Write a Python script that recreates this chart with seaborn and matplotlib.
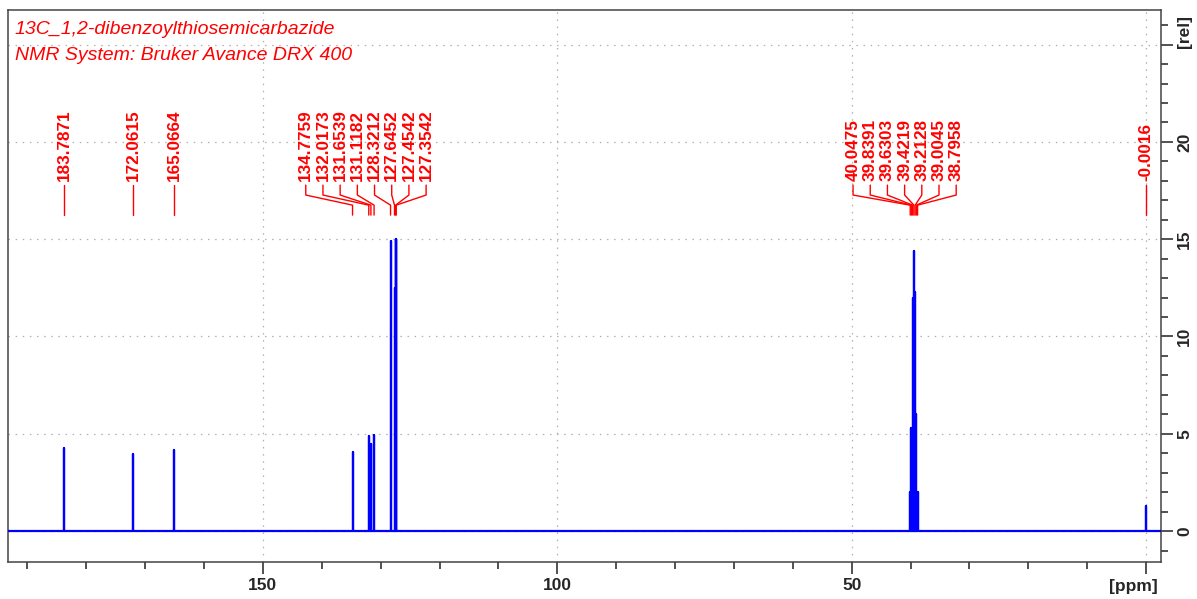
import numpy as np
import pandas as pd
import matplotlib
matplotlib.use("Agg")
import matplotlib.pyplot as plt
import matplotlib.transforms as mtransforms
from matplotlib.ticker import MultipleLocator
import seaborn as sns

## peak list (ppm) and peak heights (rel)
peak_ppm = [183.7871, 172.0615, 165.0664,
            134.7759, 132.0173, 131.6539, 131.1182, 128.3212, 127.6452, 127.4542, 127.3542,
            40.0475, 39.8391, 39.6303, 39.4219, 39.2128, 39.0045, 38.7958,
            -0.0016]
peak_height = [4.25, 3.95, 4.15,
               4.05, 4.9, 4.45, 4.95, 14.9, 12.5, 15.0, 15.0,
               2.0, 5.3, 12.0, 14.4, 12.3, 6.0, 2.0,
               1.3]
# which peaks share one label fan
label_groups = [[0], [1], [2], [3, 4, 5, 6, 7, 8, 9, 10], [11, 12, 13, 14, 15, 16, 17], [18]]

title_lines = ["13C_1,2-dibenzoylthiosemicarbazide", "NMR System: Bruker Avance DRX 400"]
x_ticks = [150, 100, 50, 0]
x_ticklabels = ["150", "100", "50", ""]
y_ticks = [0, 5, 10, 15, 20, 25]
y_ticklabels = ["0", "5", "10", "15", "20", ""]

## layout
xlim = (193.3, -2.55)
ylim = (-1.59, 26.78)
fan_center = {3: 132.5, 4: 41.0}   # where the label fans of the multiplets sit (ppm)
fan_step = 2.92                    # ppm between neighbouring labels
y_text, y_l1, y_l2, y_l3, y_l4 = 18.0, 17.78, 17.27, 16.75, 16.24

RED = "#ff0000"
BLUE = "#0000ff"

# build the stick spectrum: baseline -> peak top -> baseline
order = np.argsort(peak_ppm)[::-1]
xs = [xlim[0]]
ys = [0.0]
for i in order:
    xs += [peak_ppm[i], peak_ppm[i], peak_ppm[i]]
    ys += [0.0, peak_height[i], 0.0]
xs.append(xlim[1])
ys.append(0.0)
spec = pd.DataFrame({"ppm": xs, "rel": ys})

sns.set_style("white")
plt.rcParams["font.family"] = ["Liberation Sans", "DejaVu Sans"]

fig = plt.figure(figsize=(11.97, 5.99), dpi=100)
ax = fig.add_axes([8 / 1197, 37 / 599, 1153 / 1197, 552 / 599])

sns.lineplot(data=spec, x="ppm", y="rel", sort=False, estimator=None,
             color=BLUE, lw=1.6, ax=ax, zorder=3)

ax.set_xlim(*xlim)
ax.set_ylim(*ylim)
ax.set_xlabel("")
ax.set_ylabel("")

# grid
for xv in x_ticks:
    ax.axvline(xv, color="#b0b0b0", lw=0.9, ls=(0, (1.2, 4.5)), zorder=1)
for yv in y_ticks:
    ax.axhline(yv, color="#b0b0b0", lw=0.9, ls=(0, (1.2, 4.5)), zorder=1)

# axes / ticks
ax.yaxis.tick_right()
ax.set_xticks(x_ticks)
ax.set_xticklabels(x_ticklabels, fontsize=12.5, fontweight="bold")
ax.set_yticks(y_ticks)
ax.set_yticklabels(y_ticklabels, fontsize=12.5, fontweight="bold", rotation=90, va="center")
ax.xaxis.set_minor_locator(MultipleLocator(10))
ax.yaxis.set_minor_locator(MultipleLocator(1))
ax.tick_params(which="major", direction="out", length=8.5, width=1.1, color="#222222", pad=3)
ax.tick_params(which="minor", direction="out", length=5, width=1.1, color="#222222")
ax.tick_params(axis="x", which="both", bottom=True)
ax.tick_params(axis="y", which="both", right=True, left=False)
for s in ax.spines.values():
    s.set_color("#444444")
    s.set_linewidth(1.1)

trans_x = mtransforms.blended_transform_factory(ax.transData, ax.transAxes)
trans_y = mtransforms.blended_transform_factory(ax.transAxes, ax.transData)
ax.text(-2.0, -0.045, "[ppm]", transform=trans_x, ha="right", va="center",
        fontsize=12.5, fontweight="bold")
ax.text(1.0208, 26.5, "[rel]", transform=trans_y, ha="center", va="top",
        rotation=90, fontsize=12.5, fontweight="bold")

# title lines
for k, t in enumerate(title_lines):
    ax.text(0.006, 0.98 - k * 0.047, t, transform=ax.transAxes, ha="left", va="top",
            color=RED, fontsize=14, fontstyle="italic")

# peak labels
for g, members in enumerate(label_groups):
    n = len(members)
    for j, i in enumerate(members):
        p = peak_ppm[i]
        if n == 1:
            lx = p
        else:
            lx = fan_center[g] - (j - (n - 1) / 2) * fan_step
        ax.text(lx, y_text, f"{p:.4f}", rotation=90, ha="center", va="bottom",
                color=RED, fontsize=12.3, fontweight="bold")
        ax.plot([lx, lx, p, p], [y_l1, y_l2, y_l3, y_l4], color=RED, lw=1.0)

fig.savefig("out.png", dpi=100)
